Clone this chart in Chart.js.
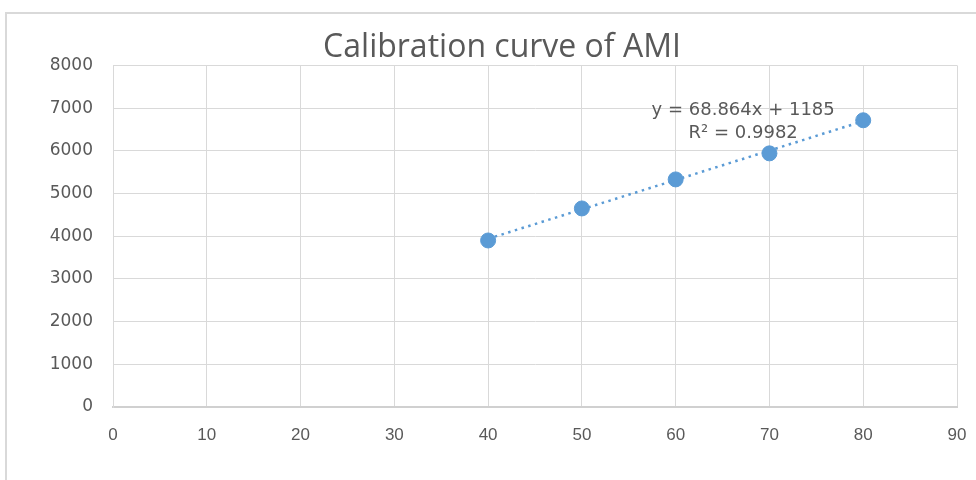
<!DOCTYPE html>
<html>
<head>
<meta charset="utf-8">
<script src="https://cdn.jsdelivr.net/npm/chart.js@4.4.1/dist/chart.umd.min.js"></script>
<style>
  html, body { margin: 0; background: #fff; overflow: hidden; width: 976px; height: 480px; }
  #frame { position: absolute; left: 5px; top: 12px; width: 1100px; height: 600px; border: 2px solid #d9d9d9; }
  #wrap { position: absolute; left: 0; top: 0; width: 976px; height: 480px; }
</style>
</head>
<body>
<div id="frame"></div>
<div id="wrap"><canvas id="myChart1"></canvas></div>
<script>
// concentration vs. response
const concentration = [40, 50, 60, 70, 80];
const response = [3900, 4650, 5330, 5940, 6715];

// trendline end points
const trendX = [40, 80];
const trendY = [3940, 6694];

const equationText = "y = 68.864x + 1185";
const r2Text = "R\u00b2 = 0.9982";

const blue = "#5b9bd5";
const grey = "#595959";

// writes the trendline equation next to the line
const equationLabel = {
  id: "equationLabel",
  afterDatasetsDraw(chart) {
    const ctx = chart.ctx;
    const xs = chart.scales.x;
    const ys = chart.scales.y;
    const cx = xs.getPixelForValue(67.2);
    ctx.save();
    ctx.fillStyle = grey;
    ctx.font = "18px 'DejaVu Sans'";
    ctx.textAlign = "center";
    ctx.textBaseline = "middle";
    ctx.fillText(equationText, cx, ys.getPixelForValue(6950));
    ctx.fillText(r2Text, cx, ys.getPixelForValue(6410));
    ctx.restore();
  }
};

function graphIt(chartId) {
  const ctx = document.getElementById(chartId).getContext("2d");
  return new Chart(ctx, {
    type: "scatter",
    data: {
      datasets: [
        {
          label: "AMI",
          data: concentration.map((x, i) => ({ x: x, y: response[i] })),
          backgroundColor: blue,
          borderColor: blue,
          pointRadius: 7.5,
          pointHoverRadius: 7.5,
          order: 1,
        },
        {
          label: "Linear (AMI)",
          type: "line",
          data: trendX.map((x, i) => ({ x: x, y: trendY[i] })),
          borderColor: blue,
          borderWidth: 2.5,
          borderDash: [2.5, 4.5],
          pointRadius: 0,
          fill: false,
          order: 2,
        },
      ],
    },
    options: {
      responsive: true,
      maintainAspectRatio: false,
      animation: false,
      layout: { padding: { left: 47, right: 19, top: 0, bottom: 0 } },
      plugins: {
        legend: { display: false },
        tooltip: { enabled: false },
        title: {
          display: true,
          text: "Calibration curve of AMI",
          color: grey,
          font: { family: "'Open Sans'", size: 32, weight: "normal" },
          padding: { top: 29, bottom: -2 },
        },
      },
      scales: {
        x: {
          type: "linear",
          min: 0,
          max: 90,
          ticks: {
            stepSize: 10,
            color: grey,
            padding: 18,
            font: { family: "'Liberation Sans Narrow', 'Liberation Sans'", size: 17 },
          },
          grid: { color: "#d9d9d9", drawTicks: false },
          border: { color: "#d0d0d0", width: 2 },
          afterFit(scale) {
            scale.height = 73;
            scale.paddingLeft = 0;
            scale.paddingRight = 0;
          },
        },
        y: {
          min: 0,
          max: 8000,
          ticks: {
            stepSize: 1000,
            color: grey,
            padding: 20,
            font: { family: "'DejaVu Sans'", size: 17 },
            callback: (v) => String(v),
          },
          grid: { color: "#d9d9d9", drawTicks: false },
          border: { color: "#d9d9d9" },
          afterFit(scale) { scale.width = 66; },
        },
      },
    },
    plugins: [equationLabel],
  });
}

graphIt("myChart1");
</script>
</body>
</html>
